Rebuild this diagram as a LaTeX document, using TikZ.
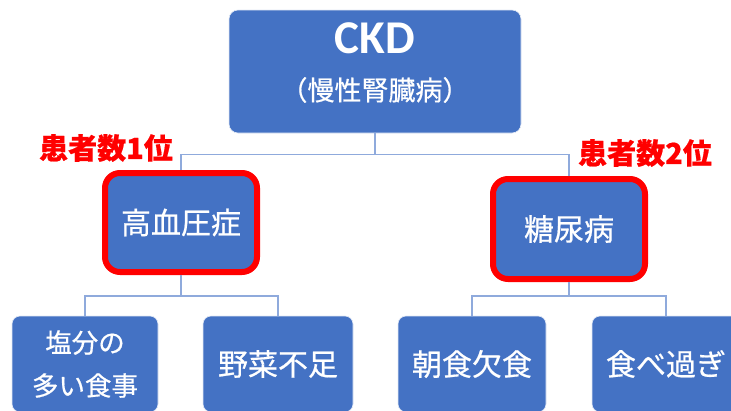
\documentclass[tikz,border=0pt]{standalone}
\usepackage{fontspec}
\setmainfont{Carlito}
\newfontfamily\jp[FakeBold=0.6]{Noto Sans CJK JP}
\definecolor{boxblue}{HTML}{4472C4}
\definecolor{linkblue}{HTML}{8FAADC}
\definecolor{hilite}{HTML}{FF0000}
\begin{document}
\begin{tikzpicture}[x=1pt,y=-1pt,
  box/.style={rectangle, rounded corners=9pt, fill=boxblue, draw=white!85!boxblue, line width=0.6pt, text=white, align=center, inner sep=0pt},
  redbox/.style={box, draw=hilite, line width=6pt, rounded corners=15pt},
  link/.style={draw=linkblue, line width=1.4pt},
  rank/.style={text=hilite, font=\jp\bfseries\fontsize{29}{31}\selectfont, inner sep=0pt}
]
\clip (0,0) rectangle (731,410);
\fill[white] (0,0) rectangle (731,410);
\node[box, minimum width=292pt, minimum height=123pt] (ckd) at (375,71.5) {};
\node[font=\bfseries\fontsize{47}{49}\selectfont, text=white, inner sep=0pt] (ckdt) at (375,38) {CKD};
\node[font=\jp\fontsize{27}{29}\selectfont, text=white, inner sep=0pt] (ckds) at (375,90) {（慢性腎臓病）};
\node[redbox, minimum width=152pt, minimum height=99pt, font=\jp\fontsize{30}{32}\selectfont] (htn) at (181,222.5) {高血圧症};
\node[redbox, minimum width=152pt, minimum height=100pt, font=\jp\fontsize{30}{32}\selectfont] (dm) at (569,229) {糖尿病};
\node[box, rounded corners=8pt, minimum width=146pt, minimum height=96pt, font=\jp\fontsize{26.5}{43}\selectfont] (salt) at (85,364) {塩分の\\多い食事};
\node[box, rounded corners=8pt, minimum width=150pt, minimum height=96pt, font=\jp\fontsize{30}{32}\selectfont] (veg) at (278,364) {野菜不足};
\node[box, rounded corners=8pt, minimum width=148pt, minimum height=96pt, font=\jp\fontsize{30}{32}\selectfont] (bfast) at (472,364) {朝食欠食};
\node[box, rounded corners=8pt, minimum width=148pt, minimum height=96pt, font=\jp\fontsize{30}{32}\selectfont] (over) at (666,364) {食べ過ぎ};
\node[rank] (r1) at (106,148) {患者数1位};
\node[rank] (r2) at (645,153) {患者数2位};
\draw[link] (ckd.south) -- ++(0,21) -| (htn.north);
\draw[link] (ckd.south) -- ++(0,21) -| (dm.north);
\draw[link] (htn.south) -- ++(0,21) -| (salt.north);
\draw[link] (htn.south) -- ++(0,21) -| (veg.north);
\draw[link] (dm.south) -- ++(0,14) -| (bfast.north);
\draw[link] (dm.south) -- ++(0,14) -| (over.north);
\end{tikzpicture}
\end{document}
